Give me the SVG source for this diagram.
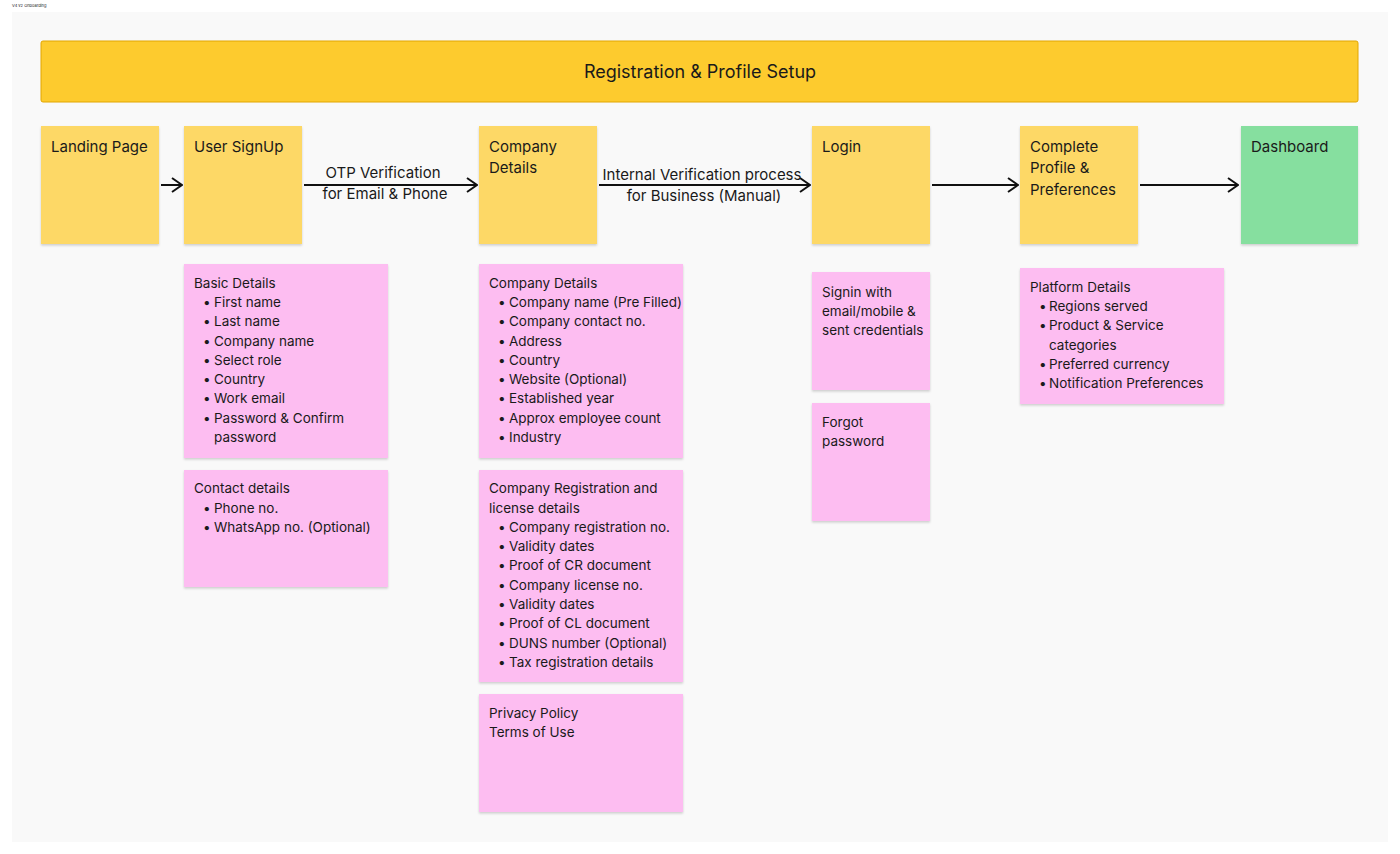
<svg xmlns="http://www.w3.org/2000/svg" width="1400" height="854" viewBox="0 0 1400 854">
<style>
text{font-family:Inter,"Liberation Sans",sans-serif;fill:#1a1a1a}
.t{font-size:15px}
.s{font-size:13.5px}
.y{fill:#fdd866;filter:url(#sh)}
.g{fill:#86df9f;filter:url(#sh)}
.p{fill:#fdbdf1;filter:url(#sh)}
.c{stroke:#111;stroke-width:2;fill:none;marker-end:url(#ar)}
</style>
<defs>
<filter id="sh" x="-5%" y="-5%" width="110%" height="112%"><feDropShadow dx="0" dy="1.5" stdDeviation="1.2" flood-opacity="0.18"/></filter>
<marker id="ar" viewBox="0 0 12 16" refX="11" refY="8" markerWidth="12" markerHeight="16" markerUnits="userSpaceOnUse" orient="auto"><path d="M1 1 L11 8 L1 15" fill="none" stroke="#111" stroke-width="2"/></marker>
</defs>
<rect width="1400" height="854" fill="#fff"/>
<text x="12" y="7" style="font-size:4px">V4 v2 Onboarding</text>
<rect x="12" y="12" width="1376" height="830" fill="#f9f9f9"/>
<g id="header"><rect x="41" y="41" width="1317" height="61" rx="2" fill="#fdcb2e" stroke="#e2a600"/><text x="700" y="78" text-anchor="middle" style="font-size:18px">Registration &amp; Profile Setup</text></g>
<g id="connectors">
<line class="c" x1="161" y1="185" x2="182" y2="185"/>
<line class="c" x1="304" y1="185" x2="477" y2="185"/>
<line class="c" x1="599" y1="185" x2="810" y2="185"/>
<line class="c" x1="932" y1="185" x2="1018" y2="185"/>
<line class="c" x1="1140" y1="185" x2="1238" y2="185"/>
<text class="t" x="383" y="178" text-anchor="middle">OTP Verification</text>
<text class="t" x="385" y="199" text-anchor="middle">for Email &amp; Phone</text>
<text class="t" x="702" y="180" text-anchor="middle">Internal Verification process</text>
<text class="t" x="704" y="201" text-anchor="middle">for Business (Manual)</text>
</g>
<g id="landing"><rect class="y" x="41" y="126" width="118" height="118"/><text class="t" x="51" y="152">Landing Page</text></g>
<g id="signup"><rect class="y" x="184" y="126" width="118" height="118"/><text class="t" x="194" y="152">User SignUp</text></g>
<g id="company"><rect class="y" x="479" y="126" width="118" height="118"/><text class="t" x="489" y="152">Company</text><text class="t" x="489" y="173">Details</text></g>
<g id="login"><rect class="y" x="812" y="126" width="118" height="118"/><text class="t" x="822" y="152">Login</text></g>
<g id="complete"><rect class="y" x="1020" y="126" width="118" height="118"/><text class="t" x="1030" y="152">Complete</text><text class="t" x="1030" y="173">Profile &amp;</text><text class="t" x="1030" y="195">Preferences</text></g>
<g id="dashboard"><rect class="g" x="1241" y="126" width="117" height="118"/><text class="t" x="1251" y="152">Dashboard</text></g>

<g id="basic"><rect class="p" x="184" y="264" width="204" height="194"/>
<text class="s" x="194" y="288">Basic Details</text>
<g transform="translate(0,0)">
<text class="s" x="203" y="307">•</text><text class="s" x="214" y="307">First name</text>
<text class="s" x="203" y="326">•</text><text class="s" x="214" y="326">Last name</text>
<text class="s" x="203" y="346">•</text><text class="s" x="214" y="346">Company name</text>
<text class="s" x="203" y="365">•</text><text class="s" x="214" y="365">Select role</text>
<text class="s" x="203" y="384">•</text><text class="s" x="214" y="384">Country</text>
<text class="s" x="203" y="403">•</text><text class="s" x="214" y="403">Work email</text>
<text class="s" x="203" y="423">•</text><text class="s" x="214" y="423">Password &amp; Confirm</text>
<text class="s" x="214" y="442">password</text></g></g>
<g id="contact"><rect class="p" x="184" y="470" width="204" height="117"/>
<text class="s" x="194" y="493">Contact details</text>
<text class="s" x="203" y="513">•</text><text class="s" x="214" y="513">Phone no.</text>
<text class="s" x="203" y="532">•</text><text class="s" x="214" y="532">WhatsApp no. (Optional)</text></g>
<g id="compdetails"><rect class="p" x="479" y="264" width="204" height="194"/>
<text class="s" x="489" y="288">Company Details</text>
<text class="s" x="498" y="307">•</text><text class="s" x="509" y="307">Company name (Pre Filled)</text>
<text class="s" x="498" y="326">•</text><text class="s" x="509" y="326">Company contact no.</text>
<text class="s" x="498" y="346">•</text><text class="s" x="509" y="346">Address</text>
<text class="s" x="498" y="365">•</text><text class="s" x="509" y="365">Country</text>
<text class="s" x="498" y="384">•</text><text class="s" x="509" y="384">Website (Optional)</text>
<text class="s" x="498" y="403">•</text><text class="s" x="509" y="403">Established year</text>
<text class="s" x="498" y="423">•</text><text class="s" x="509" y="423">Approx employee count</text>
<text class="s" x="498" y="442">•</text><text class="s" x="509" y="442">Industry</text></g>
<g id="compreg"><rect class="p" x="479" y="470" width="204" height="212"/>
<text class="s" x="489" y="493">Company Registration and</text>
<text class="s" x="489" y="513">license details</text>
<text class="s" x="498" y="532">•</text><text class="s" x="509" y="532">Company registration no.</text>
<text class="s" x="498" y="551">•</text><text class="s" x="509" y="551">Validity dates</text>
<text class="s" x="498" y="570">•</text><text class="s" x="509" y="570">Proof of CR document</text>
<text class="s" x="498" y="590">•</text><text class="s" x="509" y="590">Company license no.</text>
<text class="s" x="498" y="609">•</text><text class="s" x="509" y="609">Validity dates</text>
<text class="s" x="498" y="628">•</text><text class="s" x="509" y="628">Proof of CL document</text>
<text class="s" x="498" y="648">•</text><text class="s" x="509" y="648">DUNS number (Optional)</text>
<text class="s" x="498" y="667">•</text><text class="s" x="509" y="667">Tax registration details</text></g>
<g id="privacy"><rect class="p" x="479" y="694" width="204" height="118"/>
<text class="s" x="489" y="718">Privacy Policy</text>
<text class="s" x="489" y="737">Terms of Use</text></g>
<g id="signin"><rect class="p" x="812" y="272" width="118" height="118"/>
<text class="s" x="822" y="297">Signin with</text>
<text class="s" x="822" y="316">email/mobile &amp;</text>
<text class="s" x="822" y="335">sent credentials</text></g>
<g id="forgot"><rect class="p" x="812" y="403" width="118" height="118"/>
<text class="s" x="822" y="427">Forgot</text>
<text class="s" x="822" y="446">password</text></g>
<g id="platform"><rect class="p" x="1020" y="268" width="204" height="136"/>
<text class="s" x="1030" y="292">Platform Details</text>
<text class="s" x="1039" y="311">•</text><text class="s" x="1049" y="311">Regions served</text>
<text class="s" x="1039" y="330">•</text><text class="s" x="1049" y="330">Product &amp; Service</text>
<text class="s" x="1049" y="350">categories</text>
<text class="s" x="1039" y="369">•</text><text class="s" x="1049" y="369">Preferred currency</text>
<text class="s" x="1039" y="388">•</text><text class="s" x="1049" y="388">Notification Preferences</text></g>
</svg>
